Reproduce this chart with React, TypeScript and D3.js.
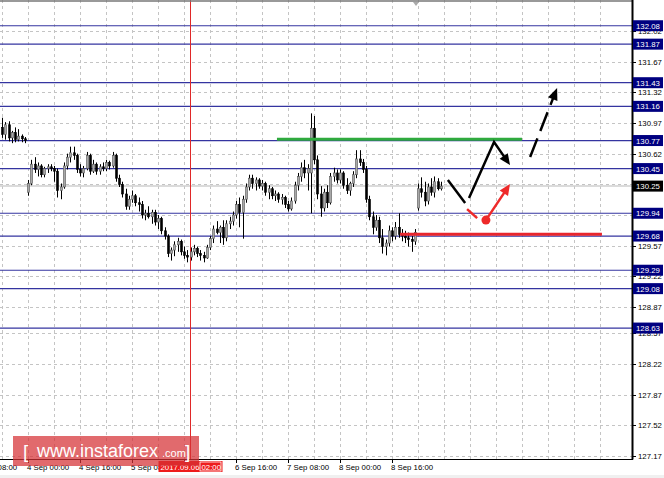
import * as d3 from 'd3';

// hourly candles, [open, high, low, close]
const CANDLES: [number, number, number, number][] = [
  [130.92, 131.03, 130.8, 130.84], [130.84, 130.98, 130.78, 130.95], [130.95, 130.99, 130.76, 130.8],
  [130.8, 130.88, 130.74, 130.86], [130.86, 130.92, 130.75, 130.78], [130.78, 130.9, 130.76, 130.82],
  [130.82, 130.84, 130.75, 130.79], [130.79, 130.81, 130.74, 130.77], [130.18, 130.32, 130.14, 130.28],
  [130.28, 130.55, 130.26, 130.5], [130.5, 130.58, 130.4, 130.44], [130.44, 130.52, 130.36, 130.48],
  [130.48, 130.5, 130.35, 130.38], [130.38, 130.47, 130.35, 130.45], [130.45, 130.5, 130.4, 130.47],
  [130.47, 130.5, 130.42, 130.45], [130.45, 130.48, 130.3, 130.42], [130.42, 130.45, 130.12, 130.2],
  [130.2, 130.28, 130.1, 130.24], [130.24, 130.52, 130.22, 130.48], [130.48, 130.62, 130.44, 130.58],
  [130.58, 130.7, 130.52, 130.63], [130.63, 130.7, 130.55, 130.6], [130.6, 130.62, 130.4, 130.44],
  [130.44, 130.5, 130.36, 130.4], [130.4, 130.48, 130.35, 130.45], [130.45, 130.64, 130.43, 130.6],
  [130.6, 130.62, 130.38, 130.42], [130.42, 130.55, 130.4, 130.5], [130.5, 130.52, 130.38, 130.42],
  [130.42, 130.5, 130.38, 130.47], [130.47, 130.52, 130.42, 130.45], [130.45, 130.55, 130.42, 130.52],
  [130.52, 130.54, 130.44, 130.48], [130.48, 130.64, 130.46, 130.6], [130.6, 130.62, 130.3, 130.34],
  [130.34, 130.38, 130.24, 130.27], [130.27, 130.3, 130.12, 130.16], [130.16, 130.22, 129.98, 130.02],
  [130.02, 130.14, 129.98, 130.1], [130.1, 130.2, 130.06, 130.14], [130.14, 130.16, 130.02, 130.06],
  [130.06, 130.12, 129.96, 130.04], [130.04, 130.08, 129.88, 129.92], [129.92, 129.98, 129.86, 129.94],
  [129.94, 130.02, 129.88, 129.9], [129.9, 129.98, 129.82, 129.95], [129.95, 129.98, 129.8, 129.84],
  [129.84, 129.92, 129.76, 129.88], [129.88, 129.9, 129.7, 129.74], [129.74, 129.78, 129.64, 129.68],
  [129.68, 129.7, 129.44, 129.48], [129.48, 129.55, 129.4, 129.52], [129.52, 129.62, 129.45, 129.58],
  [129.58, 129.66, 129.5, 129.62], [129.62, 129.64, 129.46, 129.5], [129.5, 129.56, 129.42, 129.46],
  [129.46, 129.52, 129.38, 129.44], [129.44, 129.55, 129.4, 129.5], [129.5, 129.58, 129.46, 129.54],
  [129.54, 129.56, 129.44, 129.48], [129.48, 129.52, 129.4, 129.46], [129.46, 129.5, 129.38, 129.43],
  [129.43, 129.58, 129.42, 129.55], [129.55, 129.68, 129.52, 129.65], [129.65, 129.8, 129.6, 129.76],
  [129.76, 129.85, 129.7, 129.72], [129.72, 129.8, 129.6, 129.78], [129.78, 129.86, 129.58, 129.66],
  [129.66, 129.86, 129.62, 129.82], [129.82, 129.9, 129.76, 129.85], [129.85, 129.96, 129.8, 129.92],
  [129.92, 130.08, 129.88, 130.04], [130.04, 130.12, 129.78, 129.95], [129.95, 130.14, 129.65, 130.1],
  [130.1, 130.28, 130.06, 130.24], [130.24, 130.38, 130.2, 130.34], [130.34, 130.38, 130.22, 130.28],
  [130.28, 130.35, 130.2, 130.32], [130.32, 130.34, 130.22, 130.25], [130.25, 130.32, 130.2, 130.28],
  [130.28, 130.3, 130.14, 130.18], [130.18, 130.26, 130.1, 130.22], [130.22, 130.24, 130.1, 130.14],
  [130.14, 130.2, 130.08, 130.16], [130.16, 130.18, 130.06, 130.1], [130.1, 130.16, 130.04, 130.12],
  [130.12, 130.14, 130.0, 130.04], [130.04, 130.08, 129.96, 129.99], [129.99, 130.12, 129.97, 130.08],
  [130.08, 130.3, 130.05, 130.26], [130.26, 130.4, 130.2, 130.36], [130.36, 130.52, 130.3, 130.46],
  [130.46, 130.55, 130.34, 130.4], [130.4, 130.5, 130.2, 130.45], [130.4, 131.08, 129.94, 130.91],
  [130.91, 131.05, 130.5, 130.55], [130.55, 130.6, 130.1, 130.16], [130.16, 130.25, 129.9, 130.0],
  [130.0, 130.22, 129.96, 130.18], [130.18, 130.26, 130.0, 130.06], [130.06, 130.4, 130.04, 130.36],
  [130.36, 130.46, 130.3, 130.4], [130.4, 130.44, 130.28, 130.32], [130.32, 130.44, 130.28, 130.4],
  [130.4, 130.42, 130.22, 130.26], [130.26, 130.34, 130.16, 130.2], [130.2, 130.3, 130.14, 130.28],
  [130.28, 130.42, 130.24, 130.38], [130.38, 130.66, 130.34, 130.56], [130.56, 130.66, 130.48, 130.52],
  [130.52, 130.56, 130.4, 130.44], [130.44, 130.48, 130.06, 130.1], [130.1, 130.14, 129.86, 129.9],
  [129.9, 129.96, 129.7, 129.78], [129.78, 129.92, 129.74, 129.86], [129.86, 129.9, 129.6, 129.66],
  [129.66, 129.76, 129.48, 129.56], [129.56, 129.64, 129.46, 129.6], [129.6, 129.8, 129.56, 129.74],
  [129.74, 129.78, 129.62, 129.68], [129.68, 129.84, 129.64, 129.78], [129.78, 129.94, 129.66, 129.7],
  [129.7, 129.76, 129.62, 129.68], [129.68, 129.74, 129.6, 129.66], [129.66, 129.72, 129.56, 129.64],
  [129.64, 129.68, 129.5, 129.62], [129.62, 129.76, 129.58, 129.72], [130.0, 130.28, 129.97, 130.22],
  [130.22, 130.35, 130.12, 130.18], [130.18, 130.3, 130.02, 130.08], [130.08, 130.28, 130.04, 130.24],
  [130.24, 130.34, 130.14, 130.18], [130.18, 130.36, 130.12, 130.3], [130.3, 130.34, 130.2, 130.22],
  [130.22, 130.3, 130.2, 130.25],
];

const PRICE_TICKS = [132.02, 131.67, 131.32, 130.97, 130.62, 130.27, 129.92, 129.57, 129.22, 128.87, 128.57, 128.22, 127.87, 127.52, 127.17];
const LEVELS = [132.08, 131.87, 131.43, 131.16, 130.77, 130.45, 129.94, 129.68, 129.29, 129.08, 128.63];
const CURRENT_PRICE = 130.25;

// bottom labels every 16 bars, starting at bar -8
const TIME_LABELS = ['3 Sep 08:00', '4 Sep 00:00', '4 Sep 16:00', '5 Sep 08:00', '6 Sep 00:00', '6 Sep 16:00', '7 Sep 08:00', '8 Sep 00:00', '8 Sep 16:00'];
const CURSOR_BAR = 58;
const CURSOR_LABEL = ['2017.09.06', '02:00'];

// drawn analysis: [bar, price]
const RESISTANCE: [number, number][] = [[84.6, 130.785], [160, 130.785]];
const SUPPORT: [number, number][] = [[122.5, 129.70], [184.6, 129.70]];
const BLACK_TAIL: [number, number][] = [[137.2, 130.32], [142.5, 130.057]];
const BLACK_PATH: [number, number][] = [[143.7, 130.114], [151.4, 130.753], [156.3, 130.49]];
const BLACK_DASH: [number, number][] = [[162.5, 130.582], [170.8, 131.37]];
const RED_TAIL: [number, number][] = [[143.1, 129.988], [146.2, 129.885]];
const RED_DOT: [number, number] = [148.9, 129.862];
const RED_ARROW: [number, number][] = [[148.9, 129.862], [156.3, 130.273]];

const W = 664;
const H = 478;
const PLOT_R = 632;
const PLOT_B = 459;
const FONT = 'Liberation Sans, Arial, sans-serif';

const x = d3.scaleLinear().domain([0, 1]).range([2, 5.25]);
const y = d3.scaleLinear().domain([127.17, 132.02]).range([456, 31]);

const arrowHead = (pts: [number, number][], len: number, half: number) => {
  const [x1, y1] = [x(pts[pts.length - 2][0]), y(pts[pts.length - 2][1])];
  const [x2, y2] = [x(pts[pts.length - 1][0]), y(pts[pts.length - 1][1])];
  const a = Math.atan2(y2 - y1, x2 - x1);
  const bx = x2 - len * Math.cos(a);
  const by = y2 - len * Math.sin(a);
  const nx = -Math.sin(a) * half;
  const ny = Math.cos(a) * half;
  return `${x2},${y2} ${bx + nx},${by + ny} ${bx - nx},${by - ny}`;
};

// stop the line short so the arrow tip stays sharp
const shorten = (pts: [number, number][], by: number) => {
  const p = pts.map(([b, v]) => [x(b), y(v)] as [number, number]);
  const n = p.length;
  const [x1, y1] = p[n - 2];
  const [x2, y2] = p[n - 1];
  const d = Math.hypot(x2 - x1, y2 - y1);
  p[n - 1] = [x2 - ((x2 - x1) / d) * by, y2 - ((y2 - y1) / d) * by];
  return p;
};

const line = d3.line<[number, number]>();
const dataLine = d3.line<[number, number]>().x((d) => x(d[0])).y((d) => y(d[1]));

const Box = ({ price, fill }: { price: number; fill: string }) => (
  <g transform={`translate(${PLOT_R + 1},${y(price)})`}>
    <rect x={0} y={-5.5} width={30} height={11} fill={fill} />
    <text x={3} y={3} fill="#fff" fontSize={7.8} fontFamily={FONT}>
      {price.toFixed(2)}
    </text>
  </g>
);

export default function App() {
  const gridBars = d3.range(0, 190, 8);
  const labelBars = TIME_LABELS.map((_, i) => -8 + i * 16);
  const cursorX = x(CURSOR_BAR);
  const boxed = [...LEVELS, CURRENT_PRICE];
  // tick labels fully covered by a level box are not drawn
  const visibleTicks = PRICE_TICKS.filter((p) => !boxed.some((b) => Math.abs(y(b) - y(p)) < 4));
  const visibleTimes = labelBars.filter((b) => Math.abs(x(b) - cursorX) > 20);

  return (
    <svg width={W} height={H} style={{ position: 'absolute', left: 0, top: 0, background: '#fff' }}>
      <defs>
        <clipPath id="plot">
          <rect x={0} y={0} width={PLOT_R} height={PLOT_B} />
        </clipPath>
      </defs>

      <g clipPath="url(#plot)">
        {/* grid */}
        {gridBars.map((b) => (
          <line key={b} x1={Math.round(x(b)) + 0.5} x2={Math.round(x(b)) + 0.5} y1={0} y2={PLOT_B} stroke="#c4c4c4" strokeDasharray="3,3" />
        ))}
        {PRICE_TICKS.map((p) => (
          <line key={p} x1={0} x2={PLOT_R} y1={Math.round(y(p)) + 0.5} y2={Math.round(y(p)) + 0.5} stroke="#c4c4c4" strokeDasharray="3,3" />
        ))}

        <line x1={0} x2={PLOT_R} y1={y(CURRENT_PRICE)} y2={y(CURRENT_PRICE)} stroke="#cfcfcf" strokeWidth={1.5} />

        {LEVELS.map((p) => (
          <line key={p} x1={0} x2={PLOT_R} y1={y(p)} y2={y(p)} stroke="#3434a0" strokeWidth={1.2} />
        ))}

        <line x1={cursorX} x2={cursorX} y1={0} y2={PLOT_B} stroke="#e02828" strokeWidth={1} />

        {/* candles */}
        {CANDLES.map(([o, h, l, c], i) => {
          const cx = Math.round(x(i)) + 0.5;
          const top = y(Math.max(o, c));
          const bh = Math.max(1, Math.abs(y(o) - y(c)));
          const up = c >= o;
          return (
            <g key={i}>
              <line x1={cx} x2={cx} y1={y(h)} y2={y(l)} stroke="#000" strokeWidth={1} />
              <rect x={cx - 1} y={top} width={2} height={bh} fill={up ? '#a8a8a8' : '#000'} stroke={up ? '#555' : '#000'} strokeWidth={0.6} />
            </g>
          );
        })}

        {/* support / resistance */}
        <path d={dataLine(RESISTANCE) ?? ''} stroke="#2faa3e" strokeWidth={3} fill="none" />
        <path d={dataLine(SUPPORT) ?? ''} stroke="#e8262d" strokeWidth={3} fill="none" />

        {/* forecast arrows */}
        <path d={dataLine(BLACK_TAIL) ?? ''} stroke="#000" strokeWidth={2.5} fill="none" />
        <path d={line(shorten(BLACK_PATH, 6)) ?? ''} stroke="#000" strokeWidth={2.5} fill="none" strokeLinejoin="miter" />
        <polygon points={arrowHead(BLACK_PATH, 11, 5)} fill="#000" />
        <path d={line(shorten(BLACK_DASH, 8)) ?? ''} stroke="#000" strokeWidth={2.5} fill="none" strokeDasharray="20,8" />
        <polygon points={arrowHead(BLACK_DASH, 12, 5)} fill="#000" />

        <path d={dataLine(RED_TAIL) ?? ''} stroke="#ee2a2a" strokeWidth={2.5} fill="none" />
        <circle cx={x(RED_DOT[0])} cy={y(RED_DOT[1])} r={4.5} fill="#ee2a2a" />
        <path d={line(shorten(RED_ARROW, 6)) ?? ''} stroke="#ee2a2a" strokeWidth={2.5} fill="none" />
        <polygon points={arrowHead(RED_ARROW, 11, 5)} fill="#ee2a2a" />
      </g>

      {/* frame */}
      <line x1={0} x2={PLOT_R} y1={1} y2={1} stroke="#777" strokeWidth={1.5} />
      <polygon points="413,2 419,2 416,6" fill="#aaa" />
      <line x1={PLOT_R + 0.5} x2={PLOT_R + 0.5} y1={0} y2={PLOT_B + 0.5} stroke="#000" strokeWidth={2} />
      <line x1={0} x2={PLOT_R + 1} y1={PLOT_B + 0.5} y2={PLOT_B + 0.5} stroke="#000" strokeWidth={1.2} />
      <rect x={0} y={475} width={W} height={3} fill="#f0f0f0" />

      {/* price axis */}
      {PRICE_TICKS.map((p) => (
        <line key={p} x1={PLOT_R + 1} x2={PLOT_R + 4} y1={Math.round(y(p)) + 0.5} y2={Math.round(y(p)) + 0.5} stroke="#000" />
      ))}
      {visibleTicks.map((p) => (
        <text key={p} x={PLOT_R + 6} y={y(p) + 3} fontSize={7.8} fontFamily={FONT} fill="#000">
          {p.toFixed(2)}
        </text>
      ))}
      {LEVELS.map((p) => (
        <Box key={p} price={p} fill="#000080" />
      ))}
      <Box price={CURRENT_PRICE} fill="#000" />

      {/* time axis */}
      {labelBars.map((b) => (
        <line key={b} x1={Math.round(x(b)) + 0.5} x2={Math.round(x(b)) + 0.5} y1={PLOT_B} y2={PLOT_B + 4} stroke="#000" />
      ))}
      {visibleTimes.map((b) => (
        <text key={b} x={x(b) - 1} y={469.5} fontSize={7.8} fontFamily={FONT} fill="#000">
          {TIME_LABELS[labelBars.indexOf(b)]}
        </text>
      ))}
      <g>
        <rect x={cursorX - 32} y={461} width={64} height={11} fill="#ee1c1c" />
        <text x={cursorX - 30} y={469.5} fontSize={7.8} fontFamily={FONT} fill="#fff">
          {CURSOR_LABEL[0]}
        </text>
        <rect x={cursorX + 9.5} y={462} width={21} height={9} fill="none" stroke="#fff" strokeWidth={0.8} />
        <text x={cursorX + 11} y={469.5} fontSize={7.8} fontFamily={FONT} fill="#fff">
          {CURSOR_LABEL[1]}
        </text>
      </g>

      {/* watermark */}
      <g>
        <rect x={13} y={436} width={186} height={30} fill="rgba(214,48,52,0.72)" />
        <text x={23} y={458} fontSize={19} fontFamily={FONT} fill="#fff">[</text>
        <text x={37} y={457} fontSize={18} fontFamily={FONT} fill="#fff">www.instaforex</text>
        <text x={162} y={457} fontSize={11} fontFamily={FONT} fill="#fff">.com</text>
        <text x={185} y={458} fontSize={19} fontFamily={FONT} fill="#fff">]</text>
      </g>
    </svg>
  );
}
